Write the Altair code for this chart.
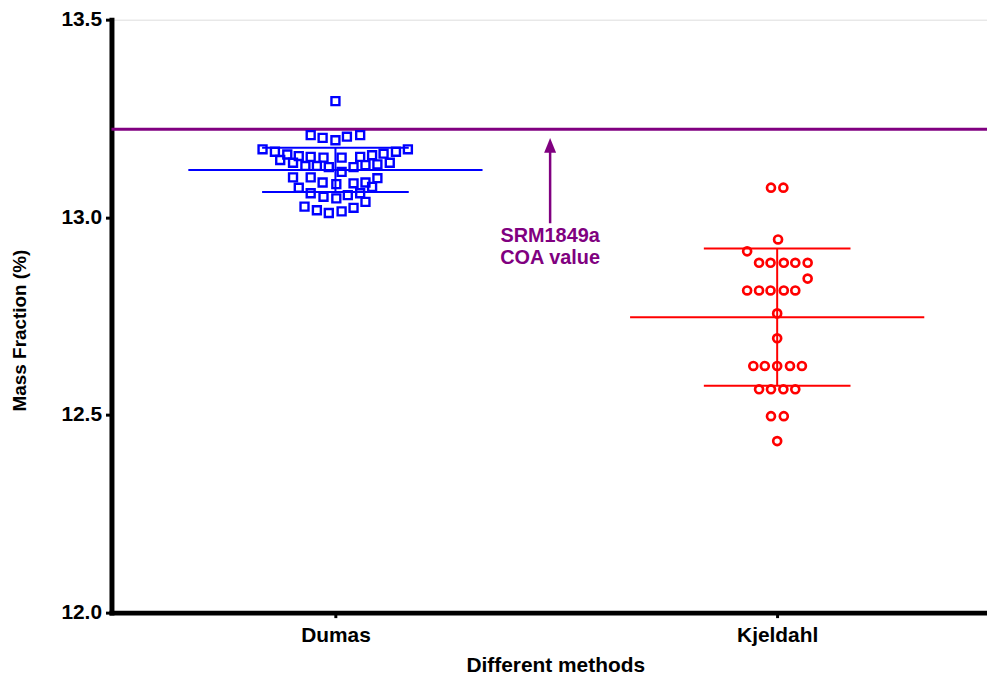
import altair as alt
import pandas as pd

# ---------------- data ----------------
categories = ["Dumas", "Kjeldahl"]
positions = [1, 2]

dumas_values = [
    13.294,
    13.208, 13.201, 13.195, 13.204, 13.208,
    13.172, 13.166, 13.145, 13.159, 13.138, 13.155, 13.130, 13.153, 13.130, 13.151, 13.127,
    13.151, 13.115, 13.127, 13.153, 13.132, 13.157, 13.134, 13.161, 13.138, 13.166, 13.172,
    13.101, 13.075, 13.101, 13.061, 13.088, 13.052, 13.084, 13.048, 13.056, 13.086,
    13.061, 13.088, 13.039, 13.077, 13.099, 13.027, 13.018, 13.011, 13.015, 13.024,
]
dumas_jitter = [
    0.0,
    -0.056, -0.029, 0.0, 0.026, 0.056,
    -0.165, -0.137, -0.125, -0.109, -0.096, -0.083, -0.068, -0.056, -0.042, -0.027, -0.015,
    0.014, 0.014, 0.041, 0.056, 0.068, 0.083, 0.095, 0.109, 0.123, 0.137, 0.164,
    -0.096, -0.083, -0.056, -0.056, -0.029, -0.027, 0.002, 0.002, 0.028, 0.041,
    0.056, 0.068, 0.068, 0.083, 0.095, -0.070, -0.042, -0.015, 0.014, 0.041,
]

kjeldahl_values = [
    13.075, 13.075,
    12.944,
    12.914,
    12.885, 12.885, 12.885, 12.885, 12.885,
    12.845,
    12.815, 12.815, 12.815, 12.815, 12.815,
    12.757,
    12.694,
    12.624, 12.624, 12.624, 12.624, 12.624,
    12.565, 12.565, 12.565, 12.565,
    12.497, 12.497,
    12.434,
]
kjeldahl_jitter = [
    -0.014, 0.014,
    0.002,
    -0.068,
    -0.041, -0.015, 0.015, 0.041, 0.069,
    0.069,
    -0.068, -0.041, -0.015, 0.015, 0.041,
    0.0,
    0.0,
    -0.054, -0.028, 0.0, 0.029, 0.056,
    -0.041, -0.014, 0.014, 0.041,
    -0.014, 0.015,
    0.0,
]

means = [13.120, 12.7475]
sds = [0.056, 0.1735]
coa_value = 13.223
annotation_text = ["SRM1849a", "COA value"]

colors = ["#0000FF", "#FF0000"]
purple = "#800080"
FONT = "Liberation Sans"

# ---------------- tables ----------------
pts_d = pd.DataFrame({"method": categories[0],
                      "x": [positions[0] + j for j in dumas_jitter],
                      "y": dumas_values})
pts_k = pd.DataFrame({"method": categories[1],
                      "x": [positions[1] + j for j in kjeldahl_jitter],
                      "y": kjeldahl_values})
stats = pd.DataFrame({"method": categories, "pos": positions, "mean": means, "sd": sds})

xscale = alt.Scale(domain=[0.493, 2.475], nice=False, zero=False)
yscale = alt.Scale(domain=[12.0, 13.5], nice=False, zero=False)
cscale = alt.Scale(domain=categories, range=colors)

label_expr = " : ".join(
    [f"datum.value == {p} ? '{c}'" for p, c in zip(positions[:-1], categories[:-1])]
    + [f"'{categories[-1]}'"]
)

xaxis = alt.Axis(values=positions, labelExpr=label_expr, title="Different methods",
                 grid=False, domainWidth=5, domainColor="black", domainCap="square",
                 tickColor="black", tickWidth=3, tickSize=5,
                 labelFont=FONT, labelFontSize=21, labelFontWeight="bold", labelColor="black",
                 labelPadding=7,
                 titleFont=FONT, titleFontSize=21, titleFontWeight="bold", titleColor="black",
                 titleX=446, titleY=59, titleBaseline="alphabetic", titleAlign="center")
yaxis = alt.Axis(values=[12.0, 12.5, 13.0, 13.5], format=".1f", title="Mass Fraction (%)",
                 grid=False, domainWidth=5, domainColor="black", domainCap="square",
                 tickColor="black", tickWidth=3, tickSize=6,
                 labelFont=FONT, labelFontSize=21, labelFontWeight="bold", labelColor="black",
                 labelPadding=4,
                 titleFont=FONT, titleFontSize=19, titleFontWeight="bold", titleColor="black",
                 titleX=-92, titleY=312, titleAngle=270, titleBaseline="middle",
                 titleAlign="center")

base_stats = alt.Chart(stats)

# axes carrier (invisible)
axes = alt.Chart(stats).mark_point(opacity=0).encode(
    x=alt.X("pos:Q", scale=xscale, axis=xaxis),
    y=alt.Y("mean:Q", scale=yscale, axis=yaxis),
)

coa = alt.Chart(pd.DataFrame({"v": [coa_value]})).mark_rule(
    color=purple, strokeWidth=3).encode(y=alt.Y("v:Q", scale=yscale))

arrow_df = pd.DataFrame({"x": [1.486], "y0": [12.985], "y1": [13.183], "head": [13.182]})
arrow_shaft = alt.Chart(arrow_df).mark_rule(color=purple, strokeWidth=2.5).encode(
    x=alt.X("x:Q", scale=xscale), y=alt.Y("y0:Q", scale=yscale), y2="y1:Q")
arrow_head = alt.Chart(arrow_df).mark_point(
    shape="M0,-1L0.8,1L-0.8,1Z", filled=True, color=purple, size=225, opacity=1
).encode(x=alt.X("x:Q", scale=xscale), y=alt.Y("head:Q", scale=yscale))

ann_df = pd.DataFrame({"x": [1.486, 1.486], "y": [12.952, 12.898], "t": annotation_text})
ann = alt.Chart(ann_df).mark_text(
    font=FONT, fontSize=20, fontWeight="bold", color=purple, baseline="middle", align="center"
).encode(x=alt.X("x:Q", scale=xscale), y=alt.Y("y:Q", scale=yscale), text="t:N")

mean_lines = base_stats.transform_calculate(
    x0="datum.pos - 0.333", x1="datum.pos + 0.333"
).mark_rule(strokeWidth=2).encode(
    x=alt.X("x0:Q", scale=xscale), x2="x1:Q", y=alt.Y("mean:Q", scale=yscale),
    color=alt.Color("method:N", scale=cscale, legend=None))
sd_up = base_stats.transform_calculate(
    x0="datum.pos - 0.166", x1="datum.pos + 0.166", v="datum.mean + datum.sd"
).mark_rule(strokeWidth=2).encode(
    x=alt.X("x0:Q", scale=xscale), x2="x1:Q", y=alt.Y("v:Q", scale=yscale),
    color=alt.Color("method:N", scale=cscale, legend=None))
sd_lo = base_stats.transform_calculate(
    x0="datum.pos - 0.166", x1="datum.pos + 0.166", v="datum.mean - datum.sd"
).mark_rule(strokeWidth=2).encode(
    x=alt.X("x0:Q", scale=xscale), x2="x1:Q", y=alt.Y("v:Q", scale=yscale),
    color=alt.Color("method:N", scale=cscale, legend=None))
vert = base_stats.transform_calculate(
    lo="datum.mean - datum.sd", hi="datum.mean + datum.sd"
).mark_rule(strokeWidth=2).encode(
    x=alt.X("pos:Q", scale=xscale), y=alt.Y("lo:Q", scale=yscale), y2="hi:Q",
    color=alt.Color("method:N", scale=cscale, legend=None))

sq = alt.Chart(pts_d).mark_point(shape="square", size=64, strokeWidth=2.4, filled=False,
                                 opacity=1).encode(
    x=alt.X("x:Q", scale=xscale), y=alt.Y("y:Q", scale=yscale),
    color=alt.Color("method:N", scale=cscale, legend=None))
ci = alt.Chart(pts_k).mark_point(shape="circle", size=64, strokeWidth=2.7, filled=False,
                                 opacity=1).encode(
    x=alt.X("x:Q", scale=xscale), y=alt.Y("y:Q", scale=yscale),
    color=alt.Color("method:N", scale=cscale, legend=None))

chart = alt.layer(
    axes, coa, arrow_shaft, arrow_head, ann, sq, ci, mean_lines, sd_up, sd_lo, vert
).properties(
    width=880, height=596,
    autosize=alt.AutoSizeParams(type="none"),
    padding={"left": 104, "top": 10, "right": 0, "bottom": 70},
).configure_view(stroke=None).configure(background="white")

chart.save("out.html", embed_options={"renderer": "svg", "actions": False})
